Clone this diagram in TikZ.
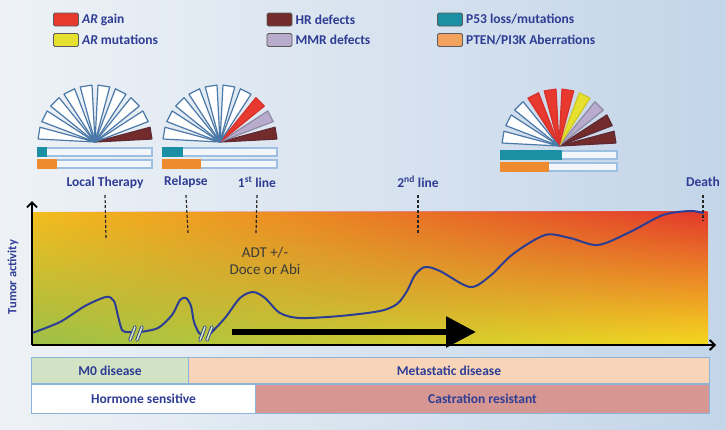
\documentclass[tikz,border=0pt]{standalone}
\usepackage{fontspec}
\setmainfont{Carlito}
\usetikzlibrary{arrows.meta,fadings}

\definecolor{bgL}{HTML}{EEF2F6}
\definecolor{bgR}{HTML}{C3D5E9}
\definecolor{txtblue}{HTML}{2E3C94}
\definecolor{legedge}{HTML}{5A5A5A}
\definecolor{wRed}{HTML}{E8392E}\definecolor{eRed}{HTML}{D8302A}
\definecolor{wYlw}{HTML}{E6E12E}\definecolor{eYlw}{HTML}{CFC82A}
\definecolor{wBrn}{HTML}{742B2B}\definecolor{eBrn}{HTML}{5E2A35}
\definecolor{wLav}{HTML}{B8ABCB}\definecolor{eLav}{HTML}{8E8AA8}
\definecolor{wWht}{HTML}{FFFFFF}\definecolor{eWht}{HTML}{4A78A8}
\definecolor{wTea}{HTML}{1B8FA3}\definecolor{wOrg}{HTML}{F3A35F}
\definecolor{barorg}{HTML}{EE8B2E}
\definecolor{barline}{HTML}{9DBFE2}
\definecolor{barfill}{HTML}{F2F6FB}
\definecolor{curveblue}{HTML}{2C3E94}
\definecolor{slash}{HTML}{D8EAB8}
\definecolor{adtgray}{HTML}{3B3B3B}
\definecolor{m0}{HTML}{D2E2C4}
\definecolor{meta}{HTML}{F8D5B9}
\definecolor{crres}{HTML}{D69793}
\definecolor{bandline}{HTML}{8EB4D9}
\definecolor{gLt}{HTML}{F4BE1E}\definecolor{gLm}{HTML}{DCDC2A}\definecolor{gLb}{HTML}{9CC048}
\definecolor{gRt}{HTML}{E3392C}\definecolor{gRm}{HTML}{EF8B2A}\definecolor{gRb}{HTML}{F6D91F}

\begin{document}
\begin{tikzpicture}[x=1pt,y=-1pt,
    lbl/.style={font=\bfseries\fontsize{13.5}{15}\selectfont, text=txtblue},
    legbox/.style={draw=legedge, line width=0.8pt, rounded corners=1.5pt,
        minimum width=25pt, minimum height=13pt, inner sep=0pt},
    wedge/.style={line width=1.2pt, line join=round},
    bar/.style={draw=barline, line width=1.3pt, fill=barfill},
    tick/.style={black!85, line width=1.2pt, dash pattern=on 3pt off 2pt},
    curve/.style={curveblue, line width=2pt, line cap=round},
    brk/.style={curveblue, line width=3.4pt, line cap=round},
    brkin/.style={slash, line width=1.6pt, line cap=round},
    axis/.style={black, line width=1.8pt, -{Straight Barb[length=5pt,width=10pt]}},
    band/.style={draw=bandline, line width=1pt, anchor=north west, inner sep=0pt,
        font=\bfseries\fontsize{13.5}{15}\selectfont, text=txtblue}]

    % background
    \shade[left color=bgL, right color=bgR] (0,0) rectangle (726,429);

    % legend
    \foreach \lx/\ly/\lc/\lt/\ln in {66/19.5/wRed/{\textit{AR} gain}/ag,
            66/40/wYlw/{\textit{AR} mutations}/am,
            279.5/19.5/wBrn/{HR defects}/hr,
            279.5/40/wLav/{MMR defects}/mr,
            450/19.5/wTea/{P53 loss/mutations}/ps,
            450/40/wOrg/{PTEN/PI3K Aberrations}/pt} {
        \node[legbox, fill=\lc] (k\ln) at (\lx,\ly) {};
        \node[lbl, anchor=west, inner sep=1pt] (t\ln) at ([xshift=2pt]k\ln.east) {\lt};
    }

    % fans
    \foreach \fx/\fy/\cols [count=\k] in {
            95/142/{Brn,Wht,Wht,Wht,Wht,Wht,Wht,Wht,Wht,Wht},
            220/142/{Brn,Lav,Red,Wht,Wht,Wht,Wht,Wht,Wht,Wht},
            559/146/{Brn,Brn,Lav,Ylw,Red,Red,Red,Wht,Wht,Wht}} {
        \coordinate (fan\k) at (\fx,\fy);
        \foreach \c [count=\i] in \cols {
            \pgfmathsetmacro\a{18*\i-9}
            \draw[wedge, fill=w\c, draw=e\c] (fan\k)
                -- ([shift={(\a-6:57pt)}]fan\k)
                -- ([shift={(\a+6:57pt)}]fan\k) -- cycle;
        }
    }

    % bars under the fans
    \foreach \bx/\by/\bw/\tp/\op in {38/148/114/10/20, 163/148/114/21/39, 501/151/116/62/49} {
        \draw[bar] (\bx,\by) rectangle ++(\bw,8);
        \fill[wTea] (\bx-0.6,\by-0.6) rectangle ++(\tp,9.2);
        \draw[bar] (\bx,\by+12) rectangle ++(\bw,8);
        \fill[barorg] (\bx-0.6,\by+11.4) rectangle ++(\op,9.2);
    }

    % time points
    \node[lbl] (lt) at (105,183) {Local Therapy};
    \node[lbl] (rl) at (186,182) {Relapse};
    \node[lbl] (l1) at (257,182) {1\textsuperscript{st} line};
    \node[lbl] (l2) at (418,182) {2\textsuperscript{nd} line};
    \node[lbl] (dt) at (703,182) {Death};

    % plot area
    \shade[top color=gLt, middle color=gLm, bottom color=gLb] (32,212) rectangle (708,345);
    \shade[top color=gRt, middle color=gRm, bottom color=gRb, path fading=west]
        (32,212) rectangle (708,345);

    \coordinate (tlt) at (106,238);
    \coordinate (trl) at (188,233);
    \coordinate (tl1) at (256,233);
    \coordinate (tl2) at (418,235);
    \coordinate (tdt) at (703,221);
    \foreach \n in {lt,rl,l1,l2,dt}
        \draw[tick] (\n.south |- 0,195) -- (t\n);

    \node[font=\fontsize{15}{17}\selectfont, text=adtgray, align=center] (adt) at (265,261)
        {ADT +/-\\Doce or Abi};

    % tumor curve
    \draw[curve] plot[smooth] coordinates {(32,333) (60,322) (85,306) (106,297)
        (114,301) (118,316) (122,330) (127,332) (132,332)};
    \draw[curve] plot[smooth] coordinates {(140,332) (158,328) (172,315) (180,300)
        (186,298) (191,306) (194,322) (199,333) (203,335)};
    \draw[curve] plot[smooth] coordinates {(210,334) (225,318) (240,298) (253,292)
        (265,298) (280,313) (300,318) (340,316) (380,311) (397,304) (407,291)
        (415,275) (425,267) (440,271) (470,287) (490,276) (513,254) (545,235)
        (570,238) (598,245) (630,232) (663,215) (690,211) (703,213)};
    \foreach \sx in {130,137,200,207} {
        \draw[brk] (\sx,340) -- (\sx+5,327);
        \draw[brkin] (\sx,340) -- (\sx+5,327);
    }

    % therapy arrow
    \coordinate (arrS) at (232,332);
    \coordinate (arrE) at (476,332);
    \draw[line width=6pt, -{Triangle[length=30pt,width=30pt]}] (arrS) -- (arrE);

    % axes
    \coordinate (O) at (32,345);
    \coordinate (ytop) at (32,201);
    \coordinate (xend) at (716,345);
    \draw[axis] (O) -- (ytop);
    \draw[axis] (O) -- (xend);
    \node[lbl, font=\bfseries\fontsize{12.5}{14}\selectfont, rotate=90] (ya) at (13,277) {Tumor activity};

    % disease stages
    \node[band, fill=m0, minimum width=157pt, minimum height=26pt] (m0) at (31,357) {M0 disease};
    \node[band, fill=meta, minimum width=521pt, minimum height=26pt] (md) at (188,357) {Metastatic disease};
    \node[band, fill=white, minimum width=224pt, minimum height=29pt] (hs) at (31,384) {Hormone sensitive};
    \node[band, fill=crres, minimum width=454pt, minimum height=29pt] (cr) at (255,384) {Castration resistant};

\end{tikzpicture}
\end{document}
